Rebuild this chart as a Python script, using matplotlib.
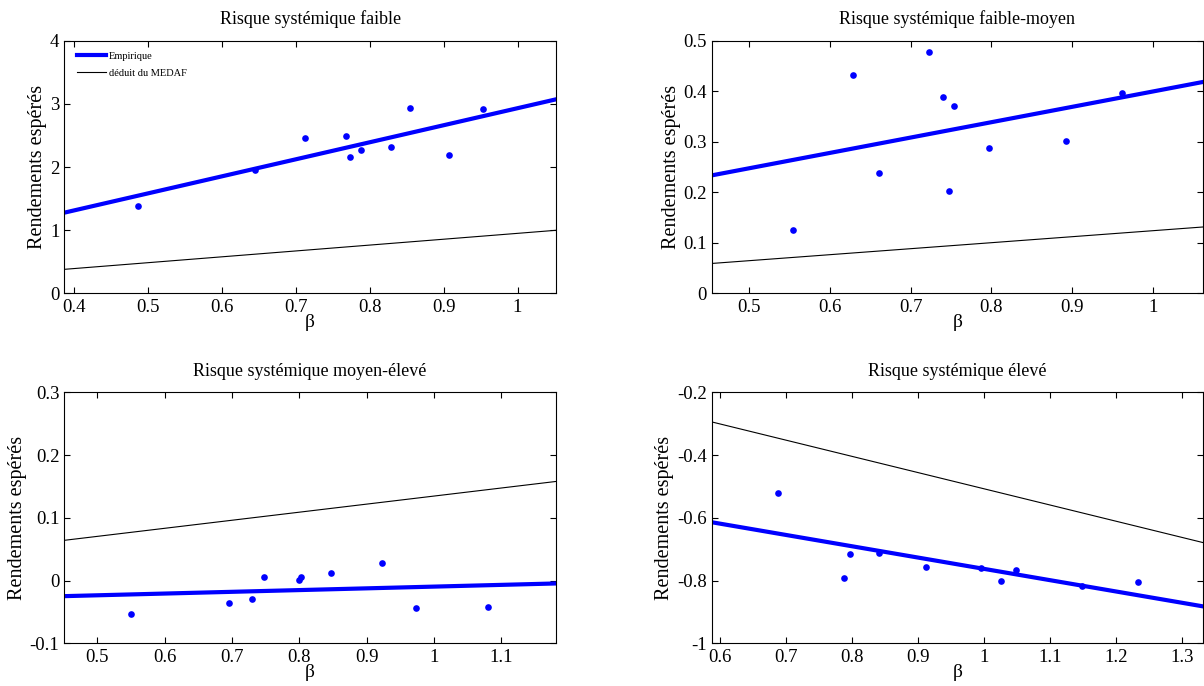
import numpy as np
import matplotlib
matplotlib.use("Agg")
import matplotlib.pyplot as plt
from matplotlib.ticker import FormatStrFormatter

plt.rcParams['font.family'] = ['Liberation Serif', 'DejaVu Serif']
plt.rcParams['axes.unicode_minus'] = False

titles = ["Risque systémique faible", "Risque systémique faible-moyen",
          "Risque systémique moyen-élevé", "Risque systémique élevé"]

# betas and expected returns of the portfolios, per risk group
beta_faible = [0.486, 0.644, 0.712, 0.768, 0.773, 0.788, 0.829, 0.854, 0.907, 0.953]
ret_faible = [1.383, 1.953, 2.464, 2.491, 2.153, 2.269, 2.311, 2.934, 2.190, 2.923]

beta_fm = [0.554, 0.628, 0.661, 0.723, 0.740, 0.748, 0.754, 0.797, 0.892, 0.962]
ret_fm = [0.125, 0.433, 0.2375, 0.478, 0.389, 0.202, 0.370, 0.2875, 0.301, 0.397]

beta_me = [0.550, 0.695, 0.729, 0.747, 0.800, 0.803, 0.847, 0.922, 0.973, 1.080]
ret_me = [-0.0534, -0.0364, -0.0295, 0.0054, 0.0012, 0.0065, 0.0123, 0.0277, -0.0444, -0.0417]

beta_eleve = [0.688, 0.787, 0.796, 0.840, 0.912, 0.995, 1.025, 1.049, 1.149, 1.233]
ret_eleve = [-0.520, -0.791, -0.714, -0.713, -0.758, -0.7605, -0.802, -0.765, -0.818, -0.805]

# (intercept, slope) of the empirical line and of the MEDAF line
emp_lines = [(0.235, 2.697), (0.0956, 0.304), (-0.0373, 0.0277), (-0.4027, -0.360)]
medaf_lines = [(0.021, 0.929), (0.0053, 0.1187), (0.0062, 0.1285), (0.0088, -0.5163)]

xlims = [(0.3865, 1.052), (0.4535, 1.062), (0.451, 1.181), (0.587, 1.332)]
ylims = [(0, 4), (0, 0.5), (-0.1, 0.3), (-1, -0.2)]
xticks = [np.arange(0.4, 1.01, 0.1), np.arange(0.5, 1.01, 0.1),
          np.arange(0.5, 1.11, 0.1), np.arange(0.6, 1.31, 0.1)]
yticks = [np.arange(0, 4.1, 1), np.arange(0, 0.51, 0.1),
          np.arange(-0.1, 0.31, 0.1), np.arange(-1, -0.19, 0.2)]

betas = [beta_faible, beta_fm, beta_me, beta_eleve]
rets = [ret_faible, ret_fm, ret_me, ret_eleve]

fig = plt.figure(figsize=(12.04, 6.86), dpi=100)
positions = [[0.0534, 0.5724, 0.4084, 0.3682], [0.5911, 0.5724, 0.4081, 0.3682],
             [0.0534, 0.0622, 0.4084, 0.3659], [0.5911, 0.0622, 0.4081, 0.3659]]

for i in range(4):
    ax = fig.add_axes(positions[i])
    xs = np.array(xlims[i])
    a, b = emp_lines[i]
    ax.plot(xs, a + b * xs, color='#0000ff', lw=3, label='Empirique')
    a, b = medaf_lines[i]
    ax.plot(xs, a + b * xs, color='black', lw=0.8, label='déduit du MEDAF')
    ax.plot(betas[i], rets[i], 'o', color='#0000ff', ms=4.8, mec='none')
    ax.set_xlim(xlims[i])
    ax.set_ylim(ylims[i])
    ax.set_xticks(xticks[i])
    ax.set_yticks(yticks[i])
    ax.xaxis.set_major_formatter(FormatStrFormatter('%g'))
    ax.yaxis.set_major_formatter(FormatStrFormatter('%g'))
    ax.tick_params(direction='in', top=True, right=True, length=4,
                   labelsize=13.5, width=0.8)
    ax.tick_params(axis='x', pad=4)
    for sp in ax.spines.values():
        sp.set_linewidth(0.8)
    ax.set_title(titles[i], fontsize=13, pad=12)
    ax.set_ylabel("Rendements espérés", fontsize=14.5, labelpad=2)
    ax.set_xlabel("β", fontsize=14, labelpad=-1.5)
    if i == 0:
        ax.legend(loc='upper left', frameon=False, fontsize=7.5,
                  handlelength=2.8, handletextpad=0.2, labelspacing=0.75,
                  bbox_to_anchor=(0.018, 0.975), borderaxespad=0)

fig.savefig("out.png", dpi=100)
